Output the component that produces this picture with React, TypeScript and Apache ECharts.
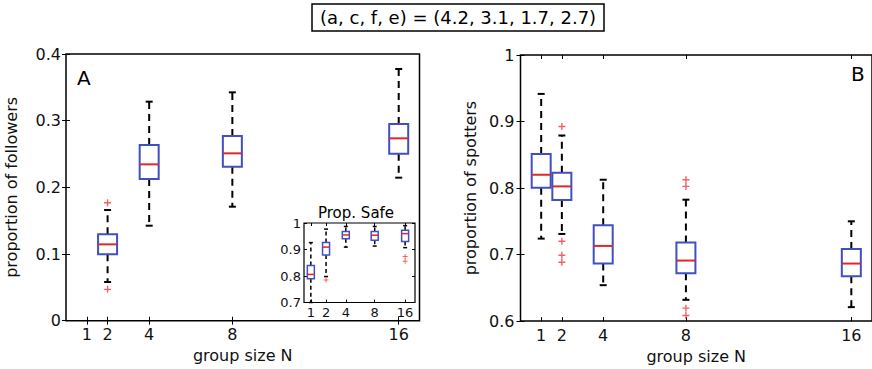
import React, { useEffect, useRef } from "react";
import * as echarts from "echarts";

// ---------- data ----------
const groupSizeTicks = [1, 2, 4, 8, 16];

// Panel A: proportion of followers (no box for N = 1)
const followersN = [2, 4, 8, 16];
const followersLow = [0.058, 0.1425, 0.171, 0.2145];
const followersQ1 = [0.0995, 0.2125, 0.231, 0.2505];
const followersMedian = [0.1145, 0.2345, 0.251, 0.2735];
const followersQ3 = [0.1295, 0.2635, 0.277, 0.295];
const followersHigh = [0.166, 0.3285, 0.3425, 0.3775];
const followersOutlierN = [2, 2];
const followersOutlierV = [0.177, 0.047];

// Panel B: proportion of spotters
const spottersN = [1, 2, 4, 8, 16];
const spottersLow = [0.724, 0.731, 0.654, 0.632, 0.621];
const spottersQ1 = [0.8005, 0.782, 0.6865, 0.672, 0.6675];
const spottersMedian = [0.82, 0.8025, 0.713, 0.691, 0.6865];
const spottersQ3 = [0.851, 0.823, 0.744, 0.718, 0.7085];
const spottersHigh = [0.9415, 0.879, 0.8125, 0.7825, 0.75];
const spottersOutlierN = [2, 2, 2, 2, 8, 8, 8, 8];
const spottersOutlierV = [0.8925, 0.72, 0.699, 0.6885, 0.8125, 0.8025, 0.6195, 0.6085];

// Inset: proportion safe
const safeLabels = ["1", "2", "4", "8", "16"];
const safePositions = [1, 2, 3.3, 5.2, 7.2];
const safeLow = [0.7, 0.798, 0.909, 0.913, 0.907];
const safeQ1 = [0.79, 0.879, 0.941, 0.935, 0.93];
const safeMedian = [0.806, 0.909, 0.955, 0.954, 0.96];
const safeQ3 = [0.84, 0.926, 0.968, 0.968, 0.973];
const safeHigh = [0.926, 0.977, 0.987, 0.987, 0.99];
const safeOutlierPos = [2, 7.2, 7.2];
const safeOutlierV = [0.785, 0.874, 0.856];

// ---------- styles ----------
const FONT = "DejaVu Sans";
const BLUE = "#4050c2";
const RED = "#e3262a";
const OUT_RED = "#ee3b3b";
const INK = "#111";
const PLUS = "path://M4,0H6V4H10V6H6V10H4V6H0V4H4Z";

function rows(xs: number[], lo: number[], q1: number[], md: number[], q3: number[], hi: number[]) {
  return xs.map((x, i) => [x, lo[i], q1[i], md[i], q3[i], hi[i]]);
}

function makeBox(boxW: number, capW: number, lw: number, dash: number[]) {
  return (_params: any, api: any) => {
    const x = api.value(0);
    const lo = api.coord([x, api.value(1)]);
    const q1 = api.coord([x, api.value(2)]);
    const md = api.coord([x, api.value(3)]);
    const q3 = api.coord([x, api.value(4)]);
    const hi = api.coord([x, api.value(5)]);
    const cx = q1[0];
    const wStyle = { stroke: "#000", lineWidth: lw, lineDash: dash };
    const cStyle = { stroke: "#000", lineWidth: lw };
    return {
      type: "group",
      children: [
        { type: "line", shape: { x1: cx, y1: q3[1], x2: cx, y2: hi[1] }, style: wStyle },
        { type: "line", shape: { x1: cx, y1: q1[1], x2: cx, y2: lo[1] }, style: wStyle },
        { type: "line", shape: { x1: cx - capW / 2, y1: hi[1], x2: cx + capW / 2, y2: hi[1] }, style: cStyle },
        { type: "line", shape: { x1: cx - capW / 2, y1: lo[1], x2: cx + capW / 2, y2: lo[1] }, style: cStyle },
        {
          type: "rect",
          shape: { x: cx - boxW / 2, y: q3[1], width: boxW, height: q1[1] - q3[1] },
          style: { fill: "#fff", stroke: BLUE, lineWidth: lw },
        },
        { type: "line", shape: { x1: cx - boxW / 2, y1: md[1], x2: cx + boxW / 2, y2: md[1] }, style: { stroke: RED, lineWidth: lw } },
      ],
    };
  };
}

function xAxes(gridIndex: number, min: number, max: number, ticks: number[], fmt: (v: number) => string, fontSize: number, tickLen: number, margin: number, name?: string) {
  const base: any = {
    type: "value",
    gridIndex,
    min,
    max,
    splitLine: { show: false },
    axisLine: { show: false },
    axisTick: { show: true, inside: true, length: tickLen, customValues: ticks, lineStyle: { color: "#000", width: 1 } },
  };
  return [
    {
      ...base,
      position: "bottom",
      axisLabel: { show: true, customValues: ticks, formatter: fmt, fontSize, fontFamily: FONT, color: INK, margin },
      name,
      nameLocation: "middle",
      nameGap: 26,
      nameTextStyle: { fontSize: 16, fontFamily: FONT, color: INK },
    },
    { ...base, position: "top", axisLabel: { show: false } },
  ];
}

function yAxes(gridIndex: number, min: number, max: number, interval: number, fontSize: number, tickLen: number, margin: number, name?: string, nameGap?: number) {
  const base: any = {
    type: "value",
    gridIndex,
    min,
    max,
    interval,
    splitLine: { show: false },
    axisLine: { show: false },
    axisTick: { show: true, inside: true, length: tickLen, lineStyle: { color: "#000", width: 1 } },
  };
  return [
    {
      ...base,
      position: "left",
      axisLabel: {
        show: true,
        fontSize,
        fontFamily: FONT,
        color: INK,
        margin,
        formatter: (v: number) => String(Math.round(v * 10) / 10),
      },
      name,
      nameLocation: "middle",
      nameGap,
      nameTextStyle: { fontSize: 16, fontFamily: FONT, color: INK },
    },
    { ...base, position: "right", axisLabel: { show: false } },
  ];
}

export default function App() {
  const ref = useRef<HTMLDivElement>(null);

  useEffect(() => {
    if (!ref.current) return;
    const chart = echarts.init(ref.current, undefined, { renderer: "svg" });

    const sizeFmt = (v: number) => String(v);
    const safeFmt = (v: number) => safeLabels[safePositions.indexOf(v)] ?? "";

    const option: any = {
      animation: false,
      backgroundColor: "#fff",
      title: [
        {
          text: "(a, c, f, e) = (4.2, 3.1, 1.7, 2.7)",
          left: 312,
          top: 4,
          padding: [3, 8, 3, 8],
          borderColor: "#000",
          borderWidth: 1.5,
          textStyle: { fontSize: 18, fontWeight: "normal", fontFamily: FONT, color: "#000", lineHeight: 21 },
        },
        { text: "A", left: 77, top: 68, padding: 0, textStyle: { fontSize: 20, fontWeight: "normal", fontFamily: FONT, color: "#000" } },
        { text: "B", left: 851, top: 64, padding: 0, textStyle: { fontSize: 20, fontWeight: "normal", fontFamily: FONT, color: "#000" } },
        { text: "Prop. Safe", left: 318, top: 205, padding: 0, textStyle: { fontSize: 15, fontWeight: "normal", fontFamily: FONT, color: "#000" } },
      ],
      grid: [
        { left: 66, top: 54, width: 353.5, height: 266.7, show: true, borderColor: "#000", borderWidth: 1.5, backgroundColor: "#fff", containLabel: false },
        { left: 520.5, top: 55, width: 354, height: 266.7, show: true, borderColor: "#000", borderWidth: 1.5, backgroundColor: "#fff", containLabel: false },
        { left: 304, top: 223, width: 111, height: 79.5, show: true, borderColor: "#000", borderWidth: 1.2, backgroundColor: "#fff", containLabel: false, z: 5 },
      ],
      xAxis: [
        ...xAxes(0, 0, 17, groupSizeTicks, sizeFmt, 16, 4, 6, "group size N"),
        ...xAxes(1, 0, 17, groupSizeTicks, sizeFmt, 16, 4, 6, "group size N"),
        ...xAxes(2, 0.55, 7.85, safePositions, safeFmt, 13, 3, 3).map((a) => ({ ...a, z: 5, name: undefined })),
      ],
      yAxis: [
        ...yAxes(0, 0, 0.4, 0.1, 16, 4, 5, "proportion of followers", 47),
        ...yAxes(1, 0.6, 1, 0.1, 16, 4, 6, "proportion of spotters", 42),
        ...yAxes(2, 0.7, 1, 0.1, 13, 3, 3).map((a) => ({ ...a, z: 5 })),
      ],
      series: [
        {
          type: "custom",
          xAxisIndex: 0,
          yAxisIndex: 0,
          renderItem: makeBox(19, 7, 2, [7, 5]),
          encode: { x: 0, y: [1, 2, 3, 4, 5] },
          data: rows(followersN, followersLow, followersQ1, followersMedian, followersQ3, followersHigh),
          z: 3,
        },
        {
          type: "scatter",
          xAxisIndex: 0,
          yAxisIndex: 0,
          symbol: PLUS,
          symbolSize: 7,
          itemStyle: { color: OUT_RED },
          data: followersOutlierN.map((n, i) => [n, followersOutlierV[i]]),
          z: 4,
        },
        {
          type: "custom",
          xAxisIndex: 2,
          yAxisIndex: 2,
          renderItem: makeBox(19, 7, 2, [7, 5]),
          encode: { x: 0, y: [1, 2, 3, 4, 5] },
          data: rows(spottersN, spottersLow, spottersQ1, spottersMedian, spottersQ3, spottersHigh),
          z: 3,
        },
        {
          type: "scatter",
          xAxisIndex: 2,
          yAxisIndex: 2,
          symbol: PLUS,
          symbolSize: 7,
          itemStyle: { color: OUT_RED },
          data: spottersOutlierN.map((n, i) => [n, spottersOutlierV[i]]),
          z: 4,
        },
        {
          type: "custom",
          xAxisIndex: 4,
          yAxisIndex: 4,
          renderItem: makeBox(7, 4, 1.5, [4, 3]),
          encode: { x: 0, y: [1, 2, 3, 4, 5] },
          data: rows(safePositions, safeLow, safeQ1, safeMedian, safeQ3, safeHigh),
          z: 6,
        },
        {
          type: "scatter",
          xAxisIndex: 4,
          yAxisIndex: 4,
          symbol: PLUS,
          symbolSize: 5,
          itemStyle: { color: OUT_RED },
          data: safeOutlierPos.map((p, i) => [p, safeOutlierV[i]]),
          z: 7,
        },
      ],
    };

    chart.setOption(option);
    return () => chart.dispose();
  }, []);

  return (
    <div
      ref={ref}
      style={{ position: "fixed", left: 0, top: 0, width: 872, height: 369, background: "#fff" }}
    />
  );
}
